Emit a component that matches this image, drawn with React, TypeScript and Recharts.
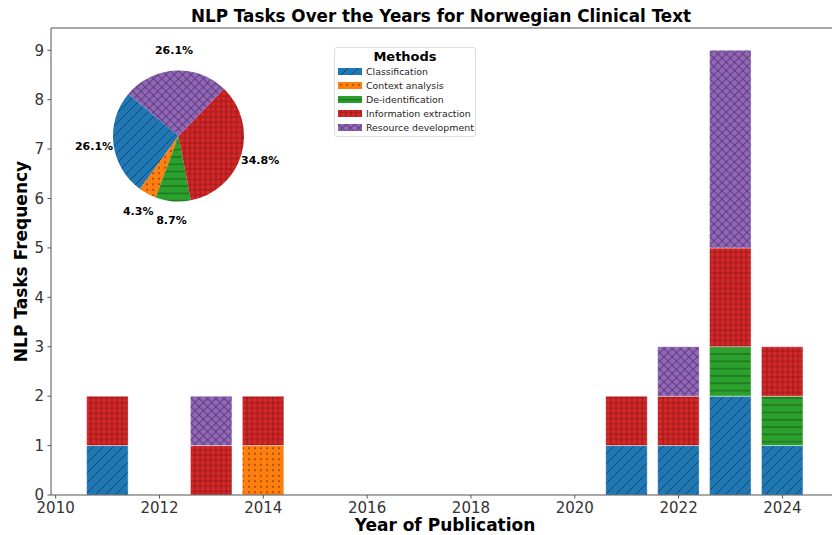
import React from 'react';
import { BarChart, Bar, XAxis, YAxis, Legend, ReferenceLine, Label, PieChart, Pie, Cell } from 'recharts';

const years = [2011, 2013, 2014, 2021, 2022, 2023, 2024];
const classification = [1, 0, 0, 1, 1, 2, 1];
const contextAnalysis = [0, 0, 1, 0, 0, 0, 0];
const deIdentification = [0, 0, 0, 0, 0, 1, 1];
const informationExtraction = [1, 1, 1, 1, 1, 2, 1];
const resourceDevelopment = [0, 1, 0, 0, 1, 4, 0];

const methods = ['Classification', 'Context analysis', 'De-identification', 'Information extraction', 'Resource development'];
const methodSeries = [classification, contextAnalysis, deIdentification, informationExtraction, resourceDevelopment];
const colors = ['#1f77b4', '#ff7f0e', '#2ca02c', '#d62728', '#9467bd'];
const patternIds = ['hatchDiag', 'hatchDots', 'hatchHoriz', 'hatchGrid', 'hatchCross'];

const xTicks = [2010, 2012, 2014, 2016, 2018, 2020, 2022, 2024];
const yTicks = [0, 1, 2, 3, 4, 5, 6, 7, 8, 9];

const FONT = '"DejaVu Sans", sans-serif';
const HATCH = 'rgba(0,0,0,0.4)';
const RAD = Math.PI / 180;

// table for recharts
const tableData = years.map((year, i) => {
  const row: any = { year };
  methods.forEach((m, k) => { row[m] = methodSeries[k][i]; });
  return row;
});

const pieData = methods.map((m, k) => ({ name: m, value: methodSeries[k].reduce((a, b) => a + b, 0) }));

const Patterns = () => (
  <defs>
    <pattern id="hatchDiag" patternUnits="userSpaceOnUse" width={10} height={10}>
      <rect width={10} height={10} fill={colors[0]} />
      <path d="M0,10 L10,0 M-2.5,2.5 L2.5,-2.5 M7.5,12.5 L12.5,7.5" stroke={HATCH} strokeWidth={1} />
    </pattern>
    <pattern id="hatchDots" patternUnits="userSpaceOnUse" width={6} height={5.5}>
      <rect width={6} height={5.5} fill={colors[1]} />
      <circle cx={3} cy={2.75} r={0.85} fill="rgba(0,0,0,0.55)" />
    </pattern>
    <pattern id="hatchHoriz" patternUnits="userSpaceOnUse" width={8} height={7.3}>
      <rect width={8} height={7.3} fill={colors[2]} />
      <path d="M0,3.65 L8,3.65" stroke={HATCH} strokeWidth={1} />
    </pattern>
    <pattern id="hatchGrid" patternUnits="userSpaceOnUse" width={5.2} height={5.2}>
      <rect width={5.2} height={5.2} fill={colors[3]} />
      <path d="M0,2.6 L5.2,2.6 M2.6,0 L2.6,5.2" stroke="rgba(0,0,0,0.3)" strokeWidth={1} />
    </pattern>
    <pattern id="hatchCross" patternUnits="userSpaceOnUse" width={8.3} height={8.3}>
      <rect width={8.3} height={8.3} fill={colors[4]} />
      <path d="M0,0 L8.3,8.3 M0,8.3 L8.3,0" stroke={HATCH} strokeWidth={1} />
    </pattern>
  </defs>
);

const MethodsLegend = () => (
  <div style={{ background: 'rgba(255,255,255,0.8)', border: '1px solid #dcdcdc', borderRadius: 3, width: 142, height: 90, boxSizing: 'border-box', fontFamily: FONT }}>
    <div style={{ textAlign: 'center', fontWeight: 'bold', fontSize: 13, lineHeight: '15px', paddingTop: 1, color: '#000' }}>Methods</div>
    {methods.map((m, k) => (
      <div key={m} style={{ display: 'flex', alignItems: 'center', height: 14.1, marginLeft: 3 }}>
        <svg width={24} height={7} style={{ marginRight: 4 }}>
          <rect width={24} height={7} fill={`url(#${patternIds[k]})`} />
        </svg>
        <span style={{ fontSize: 9.4, color: '#262626', whiteSpace: 'nowrap' }}>{m}</span>
      </div>
    ))}
  </div>
);

const renderPct = (props: any) => {
  const { cx, cy, midAngle, outerRadius, percent } = props;
  const r = outerRadius * 1.3;
  const x = cx + r * Math.cos(-midAngle * RAD);
  const y = cy + r * Math.sin(-midAngle * RAD);
  return (
    <text x={x} y={y} textAnchor="middle" dominantBaseline="central" fontSize={11} fontWeight="bold" fill="#000" fontFamily={FONT}>
      {`${(percent * 100).toFixed(1)}%`}
    </text>
  );
};

const App: React.FC = () => {
  return (
    <div style={{ position: 'absolute', left: 0, top: 0, width: 832, height: 535, overflow: 'hidden', background: '#fff' }}>
      <svg width={832} height={30} style={{ position: 'absolute', left: 0, top: 0 }}>
        <Patterns />
        <text x={441} y={22} textAnchor="middle" fontSize={16.8} fontWeight="bold" fill="#000" fontFamily={FONT}>
          NLP Tasks Over the Years for Norwegian Clinical Text
        </text>
      </svg>
      <div style={{ position: 'absolute', left: 0, top: 0 }}>
        <BarChart width={845} height={535} data={tableData} margin={{ top: 28, right: 6, bottom: 0, left: 0 }}>
          <XAxis
            dataKey="year"
            type="number"
            domain={[2009.91, 2025.09]}
            ticks={xTicks}
            height={40}
            stroke="#555"
            tickSize={3.5}
            tickMargin={3.5}
            tick={{ fill: '#333', fontSize: 15, fontFamily: FONT }}
          >
            <Label
              content={({ viewBox }: any) => (
                <text x={viewBox.x + viewBox.width / 2} y={531} textAnchor="middle" fontSize={17} fontWeight="bold" fill="#000" fontFamily={FONT}>
                  Year of Publication
                </text>
              )}
            />
          </XAxis>
          <YAxis
            type="number"
            domain={[0, 9.45]}
            ticks={yTicks}
            width={51}
            stroke="#555"
            tickSize={3.5}
            tickMargin={3.5}
            tick={{ fill: '#333', fontSize: 15, fontFamily: FONT }}
          >
            <Label
              content={({ viewBox }: any) => {
                const cy = viewBox.y + viewBox.height / 2;
                return (
                  <text x={26.7} y={cy} transform={`rotate(-90 26.7 ${cy})`} textAnchor="middle" fontSize={17} fontWeight="bold" fill="#000" fontFamily={FONT}>
                    NLP Tasks Frequency
                  </text>
                );
              }}
            />
          </YAxis>
          <ReferenceLine y={9.45} stroke="#555" strokeWidth={1} />
          <Legend
            layout="vertical"
            align="center"
            verticalAlign="middle"
            wrapperStyle={{ left: 334, top: 47, width: 142, height: 90 }}
            content={() => <MethodsLegend />}
          />
          {methods.map((m, k) => (
            <Bar
              key={m}
              dataKey={m}
              stackId="a"
              barSize={41.5}
              fill={`url(#${patternIds[k]})`}
              stroke="rgba(255,255,255,0.7)"
              strokeWidth={0.6}
              isAnimationActive={false}
            />
          ))}
        </BarChart>
      </div>
      <div style={{ position: 'absolute', left: 0, top: 0 }}>
        <PieChart width={300} height={240} margin={{ top: 0, right: 0, bottom: 0, left: 0 }}>
          <Pie
            data={pieData}
            dataKey="value"
            nameKey="name"
            cx={178.5}
            cy={136}
            outerRadius={65.5}
            startAngle={140}
            endAngle={500}
            stroke="none"
            labelLine={false}
            label={renderPct}
            isAnimationActive={false}
          >
            {pieData.map((d, k) => (
              <Cell key={d.name} fill={`url(#${patternIds[k]})`} />
            ))}
          </Pie>
        </PieChart>
      </div>
    </div>
  );
};

export default App;
